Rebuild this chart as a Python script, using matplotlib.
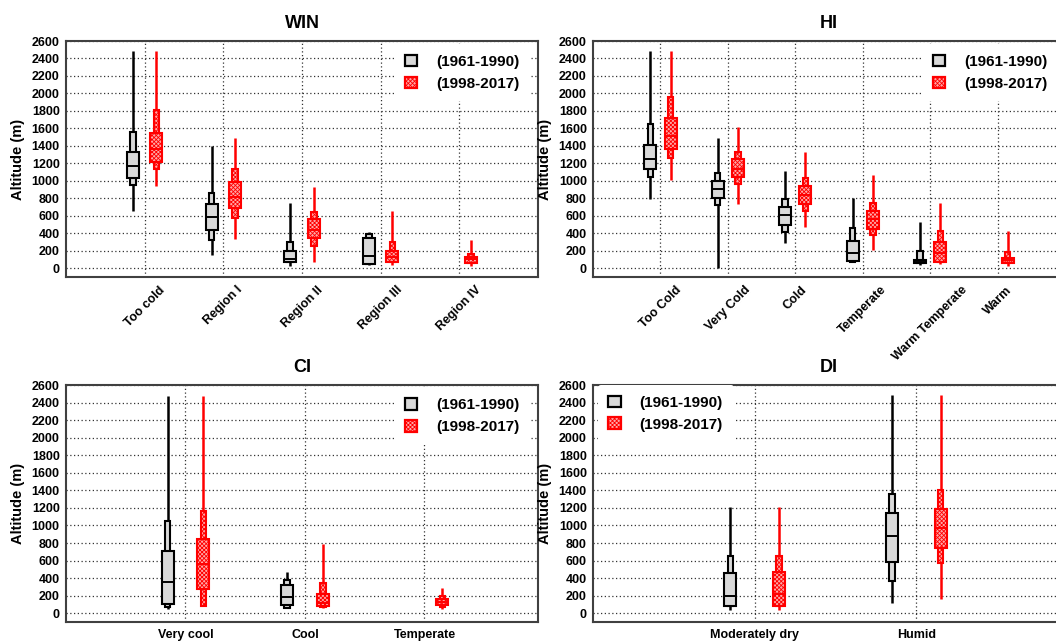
import matplotlib
matplotlib.use("Agg")
import matplotlib.pyplot as plt
from matplotlib.patches import Rectangle, Patch

plt.rcParams['font.family'] = ['Liberation Sans', 'DejaVu Sans']
plt.rcParams['font.weight'] = 'bold'
plt.rcParams['hatch.linewidth'] = 0.6

# (min, outer_lo, q1, median, q3, outer_hi, max)
WIN_CATS = ['Too cold', 'Region I', 'Region II', 'Region III', 'Region IV']
WIN_OLD = [(655, 950, 1035, 1170, 1330, 1560, 2480),
           (155, 325, 435, 585, 740, 865, 1400),
           (30, 70, 70, 105, 195, 300, 750),
           (40, 45, 45, 135, 350, 395, 420),
           None]
WIN_NEW = [(940, 1135, 1220, 1360, 1550, 1810, 2480),
           (330, 570, 685, 815, 990, 1135, 1495),
           (75, 260, 350, 440, 560, 640, 930),
           (40, 70, 75, 130, 200, 295, 655),
           (30, 55, 62, 107, 125, 165, 320)]

HI_CATS = ['Too Cold', 'Very Cold', 'Cold', 'Temperate', 'Warm Temperate', 'Warm']
HI_OLD = [(795, 1045, 1130, 1245, 1415, 1655, 2480),
          (0, 720, 800, 910, 1000, 1090, 1495),
          (285, 420, 500, 615, 705, 795, 1115),
          (75, 75, 80, 175, 315, 465, 805),
          (40, 60, 65, 80, 100, 200, 530),
          None]
HI_NEW = [(1005, 1265, 1365, 1515, 1715, 1960, 2480),
          (735, 965, 1045, 1140, 1245, 1330, 1615),
          (470, 650, 730, 835, 940, 1030, 1330),
          (205, 375, 445, 565, 660, 750, 1065),
          (50, 70, 75, 170, 300, 430, 750),
          (30, 60, 62, 95, 115, 185, 430)]

CI_CATS = ['Very cool', 'Cool', 'Temperate']
CI_OLD = [(45, 75, 105, 360, 705, 1045, 2480),
          (55, 60, 88, 190, 325, 380, 475),
          None]
CI_NEW = [(85, 85, 275, 560, 850, 1160, 2480),
          (55, 75, 78, 120, 220, 345, 790),
          (50, 75, 88, 133, 165, 200, 285)]

DI_CATS = ['Moderately dry', 'Humid']
DI_OLD = [(35, 78, 78, 198, 455, 655, 1205),
          (120, 370, 588, 885, 1140, 1355, 2485)]
DI_NEW = [(35, 78, 78, 215, 465, 650, 1205),
          (160, 568, 745, 968, 1190, 1405, 2485)]

LABELS = ['(1961-1990)', '(1998-2017)']

W, H = 1056, 641
fig = plt.figure(figsize=(W / 100, H / 100), dpi=100)

OLD_STYLE = dict(fc='#d9d9d9', ec='black', hatch=None)
NEW_STYLE = dict(fc='#ffa8a8', ec='#ff0000', hatch='xxxxxxxx')


def draw_box(ax, x, s, style, upx):
    mn, olo, q1, med, q3, ohi, mx = s
    ww = 12 * upx
    nw = 5.5 * upx
    col = style['ec']
    ax.plot([x, x], [mn, mx], color=col, lw=1.8, solid_capstyle='butt', zorder=3)
    ax.add_patch(Rectangle((x - nw / 2, olo), nw, ohi - olo, facecolor=style['fc'],
                           edgecolor=col, lw=1.5, hatch=style['hatch'], zorder=4))
    ax.add_patch(Rectangle((x - ww / 2, q1), ww, q3 - q1, facecolor=style['fc'],
                           edgecolor=col, lw=1.5, hatch=style['hatch'], zorder=5))
    ax.plot([x - ww / 2, x + ww / 2], [med, med], color=col, lw=1.4, zorder=6)


def panel(rect_px, title, cats, old, new, xmax, rotate, legend_anchor, legend_loc):
    left, top, width, height = rect_px
    ax = fig.add_axes([left / W, (H - top - height) / H, width / W, height / H])
    ax.set_xlim(-1, xmax)
    ax.set_ylim(-100, 2600)
    upx = (xmax + 1) / width
    for i in range(len(cats)):
        if old[i] is not None:
            draw_box(ax, i - 0.15, old[i], OLD_STYLE, upx)
        if new[i] is not None:
            draw_box(ax, i + 0.15, new[i], NEW_STYLE, upx)
    ax.set_yticks(range(0, 2601, 200))
    ax.set_xticks(range(len(cats)))
    if rotate:
        ax.set_xticklabels(cats, rotation=45, ha='center', va='top')
    else:
        ax.set_xticklabels(cats)
    ax.tick_params(axis='both', length=0, labelsize=9)
    ax.tick_params(axis='y', pad=4.5)
    ax.tick_params(axis='x', pad=5)
    ax.set_axisbelow(True)
    ax.grid(True, linestyle=(0, (1, 2)), color='#333333', lw=0.9)
    for sp in ax.spines.values():
        sp.set_color('#404040')
        sp.set_linewidth(1.5)
    ax.set_ylabel('Altitude (m)', fontsize=10.5, fontweight='bold', labelpad=5)
    ax.set_title(title, fontsize=13, fontweight='bold', pad=9)
    handles = [Patch(facecolor=OLD_STYLE['fc'], edgecolor='black', lw=1.6),
               Patch(facecolor=NEW_STYLE['fc'], edgecolor='#ff0000', lw=1.6,
                     hatch=NEW_STYLE['hatch'])]
    leg = ax.legend(handles, LABELS, loc=legend_loc, bbox_to_anchor=legend_anchor,
                    prop={'size': 11, 'weight': 'bold'}, frameon=True,
                    handlelength=0.8, handleheight=0.8, handletextpad=1.25,
                    labelspacing=0.5, borderpad=0.7, borderaxespad=0.0)
    leg.get_frame().set_edgecolor('none')
    leg.get_frame().set_facecolor('white')
    leg.get_frame().set_alpha(1)
    return ax


panel((66, 41, 472, 236), 'WIN', WIN_CATS, WIN_OLD, WIN_NEW, 5, True, (0.983, 0.987), 'upper right')
panel((593, 41, 472, 236), 'HI', HI_CATS, HI_OLD, HI_NEW, 6, True, (0.985, 0.987), 'upper right')
panel((66, 385, 472, 237), 'CI', CI_CATS, CI_OLD, CI_NEW, 2.95, False, (0.983, 0.99), 'upper right')
panel((593, 385, 472, 237), 'DI', DI_CATS, DI_OLD, DI_NEW, 1.92, False, (0.01, 1.0), 'upper left')

fig.savefig('out.png', dpi=100)
